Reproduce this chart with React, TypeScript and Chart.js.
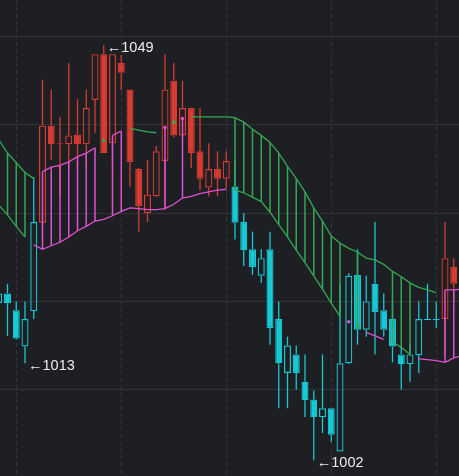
import React, { useEffect, useRef } from "react";
import { Chart, registerables } from "chart.js";

Chart.register(...registerables);

// first bar index (bar -1 is cut by the left edge)
const FIRST_INDEX = -1;

// candles, bar -1 .. 51
const opens = [1019.8, 1020.9, 1019.0, 1014.9, 1018.9, 1028.9, 1039.9, 1037.8, 1037.8, 1038.9, 1037.8, 1042.8, 1048.0, 1037.9, 1047.0, 1044.0, 1035.0, 1030.0, 1031.9, 1035.9, 1045.0, 1038.8, 1041.9, 1037.0, 1032.9, 1035.0, 1033.9, 1033.0, 1029.0, 1025.9, 1022.9, 1025.9, 1018.0, 1011.9, 1014.0, 1010.9, 1008.9, 1006.9, 1007.9, 1003.0, 1013.0, 1023.0, 1016.8, 1022.0, 1019.0, 1018.0, 1014.0, 1012.9, 1013.9, 1017.9, 1017.9, 1018.0, 1023.9];
const highs = [1021.5, 1022.0, 1020.0, 1020.0, 1034.1, 1045.1, 1044.0, 1040.9, 1047.0, 1042.9, 1044.0, 1048.0, 1049.0, 1048.0, 1047.9, 1044.0, 1035.1, 1036.0, 1037.6, 1048.0, 1047.0, 1045.0, 1041.9, 1041.9, 1037.9, 1037.0, 1037.0, 1035.9, 1030.0, 1027.9, 1025.9, 1027.9, 1020.0, 1016.0, 1015.0, 1014.0, 1009.9, 1014.0, 1007.9, 1021.9, 1023.2, 1025.9, 1022.9, 1029.0, 1020.9, 1020.0, 1014.9, 1015.1, 1020.0, 1022.0, 1020.0, 1029.0, 1024.9];
const lows = [1019.6, 1016.1, 1015.7, 1013.0, 1018.0, 1027.4, 1036.0, 1031.9, 1034.9, 1035.1, 1035.3, 1039.1, 1036.8, 1034.7, 1043.9, 1033.0, 1027.9, 1029.0, 1031.8, 1030.4, 1038.6, 1038.6, 1035.1, 1032.6, 1031.9, 1031.9, 1032.8, 1027.0, 1024.0, 1023.0, 1022.1, 1015.1, 1007.9, 1007.9, 1010.0, 1006.9, 1002.0, 1005.1, 1004.1, 1003.0, 1012.9, 1015.1, 1016.0, 1014.0, 1016.0, 1013.1, 1010.0, 1010.9, 1011.9, 1017.9, 1017.0, 1013.9, 1020.0];
const closes = [1020.9, 1019.8, 1015.8, 1018.0, 1029.0, 1039.9, 1037.8, 1037.9, 1038.8, 1037.8, 1041.9, 1048.0, 1036.8, 1048.0, 1045.9, 1035.8, 1030.8, 1032.1, 1037.0, 1044.0, 1038.8, 1041.9, 1036.8, 1033.9, 1035.0, 1033.9, 1035.9, 1028.9, 1025.8, 1023.9, 1024.9, 1017.0, 1013.0, 1015.0, 1011.9, 1008.8, 1006.9, 1007.9, 1004.9, 1013.0, 1022.9, 1016.8, 1020.0, 1018.8, 1016.8, 1014.9, 1012.9, 1014.0, 1018.0, 1018.0, 1018.0, 1024.9, 1022.0];

// cloud, bar -1 .. 52
const cloudTop = [1038.3, 1036.8, 1035.7, 1034.6, 1033.9, 1034.7, 1035.2, 1035.4, 1035.8, 1036.4, 1036.8, 1037.4, 1038.2, 1038.8, 1039.3, 1039.6, 1039.4, 1039.2, 1039.1, 1039.7, 1040.3, 1040.7, 1040.9, 1040.9, 1040.9, 1040.9, 1040.9, 1040.8, 1040.3, 1039.5, 1038.8, 1038.0, 1036.8, 1035.3, 1033.9, 1032.4, 1030.6, 1029.1, 1027.4, 1026.6, 1026.0, 1025.6, 1024.9, 1024.7, 1024.2, 1023.4, 1022.8, 1022.1, 1021.6, 1021.3, 1021.0, 1021.3, 1021.3, 1021.4];
const cloudBottom = [1030.9, 1029.8, 1028.5, 1027.3, 1026.4, 1025.9, 1026.3, 1026.7, 1027.3, 1028.0, 1028.5, 1029.1, 1029.3, 1029.7, 1030.2, 1030.6, 1030.5, 1030.4, 1030.4, 1030.5, 1031.0, 1031.7, 1031.9, 1032.2, 1032.4, 1032.6, 1032.7, 1032.6, 1032.3, 1031.8, 1031.3, 1030.1, 1028.7, 1027.3, 1025.8, 1024.4, 1022.9, 1021.4, 1019.8, 1018.3, 1017.7, 1017.1, 1016.5, 1016.1, 1015.7, 1015.4, 1014.8, 1014.0, 1013.5, 1013.4, 1013.3, 1013.1, 1013.6, 1013.9];

// 1 = rising regime (red / magenta), 0 = falling regime (cyan / green)
const trend = [0, 0, 0, 0, 0, 1, 1, 1, 1, 1, 1, 1, 1, 1, 1, 1, 1, 1, 1, 1, 1, 1, 1, 1, 1, 1, 1, 0, 0, 0, 0, 0, 0, 0, 0, 0, 0, 0, 0, 0, 0, 0, 0, 0, 0, 0, 0, 0, 0, 0, 0, 1, 1, 1];
const topState = [0, 0, 0, 0, 0, 1, 1, 1, 1, 1, 1, 1, 0, 1, 1, 0, 0, 0, 0, 1, 0, 1, 0, 0, 0, 0, 0, 0, 0, 0, 0, 0, 0, 0, 0, 0, 0, 0, 0, 0, 0, 0, 0, 0, 0, 0, 0, 0, 0, 0, 0, 1, 1, 1];
const bottomState = [0, 0, 0, 0, 1, 1, 1, 1, 1, 1, 1, 1, 1, 1, 1, 1, 1, 1, 1, 1, 1, 1, 1, 1, 1, 1, 1, 0, 0, 0, 0, 0, 0, 0, 0, 0, 0, 0, 0, 0, 1, 0, 1, 1, 1, 0, 0, 0, 1, 1, 1, 1, 1, 1];

// extreme marks
const markIndex = [11, 2, 35];
const markValue = [1049, 1013, 1002];

// grid
const gridPrices = [1010, 1020, 1030, 1040, 1050];
const gridIndex = [1, 13, 25, 37, 49];

const X_MIN = -0.857;
const X_MAX = 51.6;
const Y_MIN = 1000.23;
const Y_MAX = 1054.13;

const BG = "#1e1f23";
const RED = "#d63c31";
const CYAN = "#17c8d5";
const GREEN = "#33a854";
const MAGENTA = "#e050d4";
const CLEAR = "rgba(0,0,0,0)";

const candleColor = (k: number) => (trend[k] ? RED : CYAN);
const cloudColor = (s: number) => (s ? MAGENTA : GREEN);
const isolated = (arr: number[], k: number) =>
  (k === 0 || arr[k - 1] !== arr[k]) && (k === arr.length - 1 || arr[k + 1] !== arr[k]);

export default function App() {
  const ref = useRef<HTMLCanvasElement | null>(null);

  useEffect(() => {
    if (!ref.current) return;

    const upperWick = opens.map((o, k) => ({ x: FIRST_INDEX + k, y: [Math.max(o, closes[k]), highs[k]] }));
    const lowerWick = opens.map((o, k) => ({ x: FIRST_INDEX + k, y: [lows[k], Math.min(o, closes[k])] }));
    const bodies = opens.map((o, k) => ({ x: FIRST_INDEX + k, y: [Math.min(o, closes[k]), Math.max(o, closes[k])] }));
    const wickColors = opens.map((_, k) => candleColor(k));
    const bodyFill = opens.map((o, k) => (closes[k] < o ? candleColor(k) : CLEAR));

    const hatchData: any[] = [];
    const hatchColors: string[] = [];
    cloudTop.forEach((t, k) => {
      if (topState[k] === bottomState[k]) {
        hatchData.push({ x: FIRST_INDEX + k, y: [cloudBottom[k], t] });
        hatchColors.push(cloudColor(topState[k]));
      }
    });

    const lineSet = (values: number[], states: number[]) => ({
      type: "line" as const,
      data: values.map((v, k) => ({ x: FIRST_INDEX + k, y: v })),
      borderWidth: 1.3,
      borderColor: GREEN,
      tension: 0,
      order: 1,
      segment: {
        borderColor: (c: any) =>
          states[c.p0DataIndex] === states[c.p1DataIndex] ? cloudColor(states[c.p0DataIndex]) : CLEAR,
      },
      pointRadius: (c: any) => (isolated(states, c.dataIndex) ? 1.8 : 0),
      pointBackgroundColor: (c: any) => cloudColor(states[c.dataIndex]),
      pointBorderWidth: 0,
      pointHoverRadius: 0,
    });

    const bgPlugin = {
      id: "bg",
      beforeDraw(chart: any) {
        const { ctx, width, height } = chart;
        ctx.save();
        ctx.fillStyle = BG;
        ctx.fillRect(0, 0, width, height);
        ctx.restore();
      },
    };

    const markPlugin = {
      id: "marks",
      afterDatasetsDraw(chart: any) {
        const { ctx } = chart;
        const xs = chart.scales.x;
        const ys = chart.scales.y;
        ctx.save();
        ctx.font = '14.5px "Liberation Sans", Arial, sans-serif';
        ctx.fillStyle = "#ececec";
        ctx.textBaseline = "middle";
        ctx.textAlign = "left";
        markIndex.forEach((mi, j) => {
          ctx.fillText("\u2190" + markValue[j], xs.getPixelForValue(mi) + 3, ys.getPixelForValue(markValue[j]) + 2.5);
        });
        ctx.restore();
      },
    };

    const chart = new Chart(ref.current, {
      type: "bar",
      data: {
        datasets: [
          lineSet(cloudTop, topState) as any,
          lineSet(cloudBottom, bottomState) as any,
          {
            type: "bar",
            data: hatchData,
            backgroundColor: hatchColors,
            borderWidth: 0,
            barThickness: 1.5,
            grouped: false,
            inflateAmount: 0,
            order: 3,
          } as any,
          {
            type: "bar",
            data: bodies,
            backgroundColor: bodyFill,
            borderColor: wickColors,
            borderWidth: 1.2,
            borderSkipped: false,
            barThickness: 7,
            grouped: false,
            inflateAmount: 0,
            order: 4,
          } as any,
          {
            type: "bar",
            data: upperWick,
            backgroundColor: wickColors,
            borderWidth: 0,
            barThickness: 1.3,
            grouped: false,
            inflateAmount: 0,
            order: 5,
          } as any,
          {
            type: "bar",
            data: lowerWick,
            backgroundColor: wickColors,
            borderWidth: 0,
            barThickness: 1.3,
            grouped: false,
            inflateAmount: 0,
            order: 5,
          } as any,
        ],
      },
      options: {
        responsive: false,
        animation: false,
        events: [],
        layout: { padding: 0, autoPadding: false },
        plugins: { legend: { display: false }, tooltip: { enabled: false } },
        scales: {
          x: {
            type: "linear",
            min: X_MIN,
            max: X_MAX,
            offset: false,
            bounds: "data",
            ticks: { display: false },
            grid: { color: "#36373c", lineWidth: 1, drawTicks: false, offset: false },
            border: { display: false, dash: [4, 3] },
            afterBuildTicks: (s: any) => {
              s.ticks = gridIndex.map((v) => ({ value: v }));
            },
            afterFit: (s: any) => {
              s.height = 0;
            },
          },
          y: {
            type: "linear",
            min: Y_MIN,
            max: Y_MAX,
            bounds: "data",
            ticks: { display: false },
            grid: { color: "#323338", lineWidth: 1, drawTicks: false },
            border: { display: false },
            afterBuildTicks: (s: any) => {
              s.ticks = gridPrices.map((v) => ({ value: v }));
            },
            afterFit: (s: any) => {
              s.width = 0;
            },
          },
        },
      } as any,
      plugins: [bgPlugin, markPlugin],
    });

    return () => chart.destroy();
  }, []);

  return (
    <div style={{ position: "fixed", left: 0, top: 0, width: 459, height: 476, background: BG }}>
      <canvas ref={ref} width={459} height={476} style={{ display: "block", width: 459, height: 476 }} />
    </div>
  );
}
